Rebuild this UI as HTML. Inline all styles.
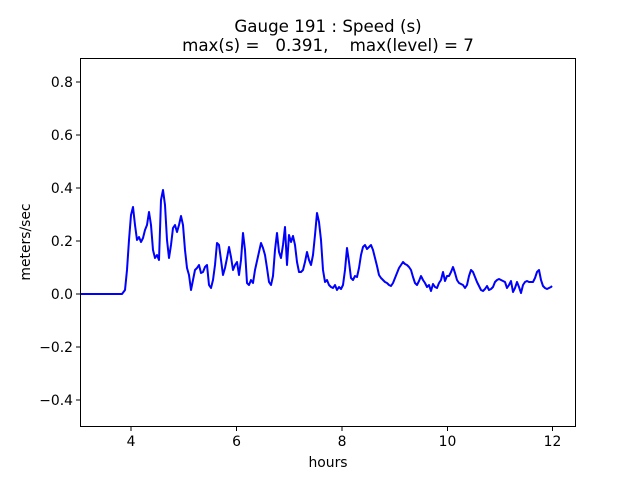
<!DOCTYPE html>
<html><head><meta charset="utf-8"><style>
html,body{margin:0;padding:0;background:#fff;}
svg{display:block;font-family:"DejaVu Sans","Liberation Sans",sans-serif;}
</style></head><body>
<svg width="640" height="480" viewBox="0 0 640 480" xmlns="http://www.w3.org/2000/svg">
<rect width="640" height="480" fill="#fff"/>
<text x="328" y="32" font-size="16.7" text-anchor="middle">Gauge 191 : Speed (s)</text>
<text x="328" y="51" font-size="16.7" text-anchor="middle" xml:space="preserve">max(s) =   0.391,    max(level) = 7</text>
<polyline fill="none" stroke="#0000ff" stroke-width="2" stroke-linejoin="round" points="80,294 122,294 125,290 127,270 129,240 131,215 133,207 135,225 137,240 139,237 141,242 143,238 145,230 147,225 149,212 151,225 153,250 155,258 157,255 159,260 161,200 163,190 165,205 167,240 169,258 171,245 173,228 175,225 177,232 179,225 181,216 183,225 185,250 187,268 189,275 191,290 193,280 195,270 197,268 199,265 201,273 203,272 205,267 207,265 209,285 211,288 213,280 215,265 217,243 219,245 221,260 223,275 225,268 227,258 229,247 231,257 233,270 235,265 237,262 239,275 241,260 243,233 245,250 247,283 249,285 251,280 253,283 255,270 259,252 261,243 263,248 265,255 267,268 269,282 271,285 273,276 275,250 277,233 279,252 281,258 283,245 285,227 287,265 289,235 291,242 293,236 295,245 297,262 299,272 301,272 303,270 305,262 307,252 309,260 311,265 313,255 315,235 317,213 319,222 321,240 323,270 325,282 327,280 329,285 331,287 333,288 335,285 337,290 339,287 341,289 343,285 345,270 347,248 349,262 351,278 353,280 355,276 357,277 359,268 361,255 363,247 365,245 367,249 369,247 371,245 373,250 375,258 377,266 379,275 381,278 383,280 385,282 387,283 389,285 391,286 393,283 395,278 397,273 399,268 401,265 403,262 405,264 407,265 409,267 411,270 413,277 415,283 417,285 419,281 421,276 423,280 425,283 427,287 429,285 431,291 433,284 435,287 437,288 439,283 441,280 443,272 445,281 447,276 449,276 451,272 453,267 455,273 457,280 459,283 461,284 463,285 465,288 467,285 469,276 471,270 473,272 475,277 477,282 479,286 481,290 483,291 485,289 487,286 489,290 491,289 493,287 495,282 497,280 499,279 501,280 503,281 505,282 507,288 509,285 511,281 513,292 515,288 517,282 519,287 521,293 523,285 525,282 527,281 529,282 531,282 533,282 535,278 537,272 539,270 541,280 543,286 545,288 547,289 549,288 551,287 552,286"/>
<rect x="80.5" y="58.5" width="495" height="368" fill="none" stroke="#000" stroke-width="1"/>
<g stroke="#000" stroke-width="1">
<line x1="131" y1="427" x2="131" y2="431"/><line x1="236.5" y1="427" x2="236.5" y2="431"/><line x1="342" y1="427" x2="342" y2="431"/><line x1="447.5" y1="427" x2="447.5" y2="431"/><line x1="552.5" y1="427" x2="552.5" y2="431"/>
<line x1="76" y1="82" x2="80" y2="82"/><line x1="76" y1="135" x2="80" y2="135"/><line x1="76" y1="188" x2="80" y2="188"/><line x1="76" y1="241" x2="80" y2="241"/><line x1="76" y1="294" x2="80" y2="294"/><line x1="76" y1="347" x2="80" y2="347"/><line x1="76" y1="400" x2="80" y2="400"/>
</g>
<g font-size="13.9" text-anchor="middle">
<text x="131" y="446">4</text><text x="236.5" y="446">6</text><text x="342" y="446">8</text><text x="447.5" y="446">10</text><text x="552.5" y="446">12</text>
<text x="328" y="467">hours</text>
</g>
<g font-size="13.9" text-anchor="end">
<text x="73" y="87">0.8</text><text x="73" y="140">0.6</text><text x="73" y="193">0.4</text><text x="73" y="246">0.2</text><text x="73" y="299">0.0</text><text x="73" y="352">−0.2</text><text x="73" y="405">−0.4</text>
</g>
<text x="30" y="242" font-size="13.9" text-anchor="middle" transform="rotate(-90 30 242)">meters/sec</text>
</svg>
</body></html>
